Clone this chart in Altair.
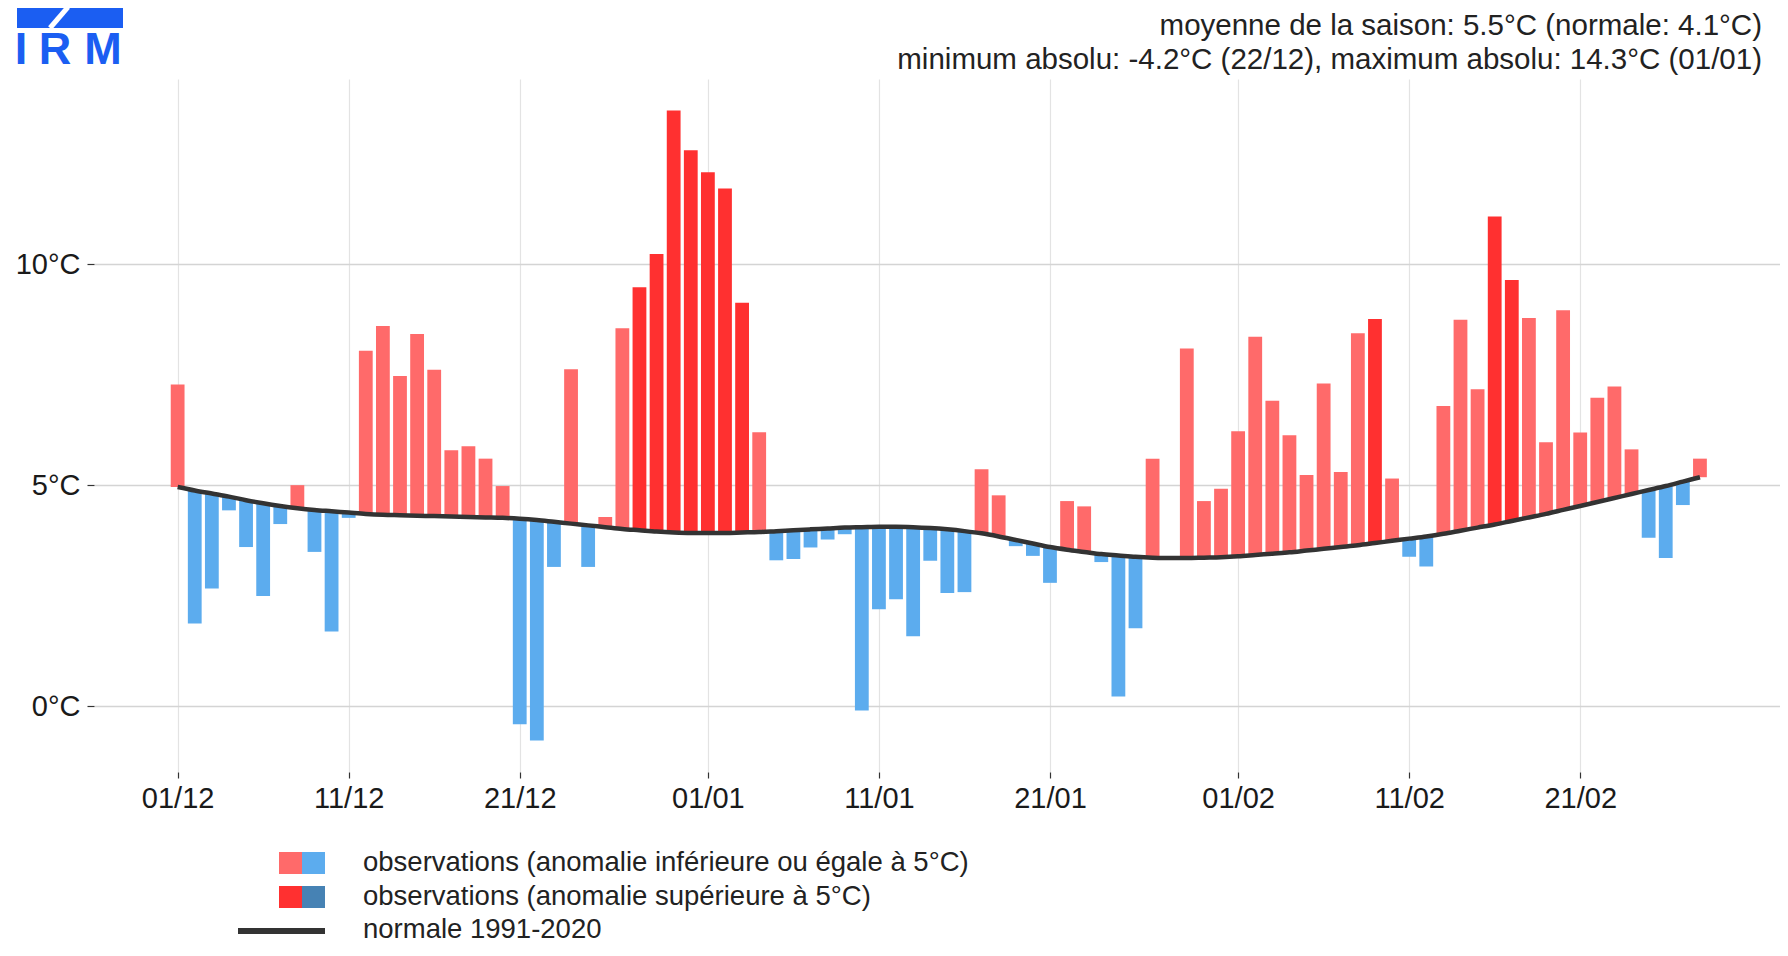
import json
import altair as alt
import pandas as pd

# ---------------- data ----------------
dates = pd.date_range("2021-12-01", "2022-02-28").strftime("%d/%m").tolist()

observed = [
    7.28, 1.87, 2.66, 4.43, 3.60, 2.49, 4.12, 5.00, 3.49, 1.69,
    4.26, 8.04, 8.60, 7.47, 8.42, 7.61, 5.79, 5.88, 5.60, 4.98,
    -0.41, -0.78, 3.15, 7.62, 3.15, 4.28, 8.55, 9.48, 10.23, 13.48,
    12.58, 12.08, 11.71, 9.13, 6.20, 3.30, 3.33, 3.59, 3.77, 3.89,
    -0.10, 2.19, 2.42, 1.58, 3.29, 2.56, 2.58, 5.36, 4.77, 3.62,
    3.40, 2.79, 4.64, 4.52, 3.26, 0.22, 1.76, 5.60, 3.35, 8.09,
    4.64, 4.92, 6.22, 8.36, 6.91, 6.13, 5.23, 7.30, 5.30, 8.44,
    8.76, 5.15, 3.38, 3.16, 6.79, 8.74, 7.17, 11.08, 9.64, 8.78,
    5.97, 8.96, 6.19, 6.98, 7.23, 5.81, 3.81, 3.35, 4.55, 5.60,
]

normal = [
    4.96, 4.88, 4.81, 4.74, 4.66, 4.59, 4.53, 4.48, 4.44, 4.41,
    4.38, 4.35, 4.33, 4.32, 4.31, 4.30, 4.29, 4.28, 4.27, 4.26,
    4.24, 4.21, 4.17, 4.13, 4.09, 4.05, 4.01, 3.98, 3.95, 3.93,
    3.92, 3.92, 3.92, 3.93, 3.94, 3.96, 3.98, 4.00, 4.02, 4.04,
    4.05, 4.06, 4.06, 4.05, 4.03, 4.00, 3.96, 3.91, 3.84, 3.76,
    3.68, 3.60, 3.54, 3.49, 3.44, 3.41, 3.38, 3.36, 3.35, 3.35,
    3.36, 3.37, 3.39, 3.42, 3.45, 3.48, 3.52, 3.56, 3.60, 3.64,
    3.69, 3.74, 3.79, 3.84, 3.90, 3.97, 4.04, 4.11, 4.19, 4.27,
    4.35, 4.44, 4.53, 4.62, 4.71, 4.80, 4.89, 4.98, 5.08, 5.18,
]

tick_days = [0, 10, 20, 31, 41, 51, 62, 72, 82]
tick_labels = ["01/12", "11/12", "21/12", "01/01", "11/01", "21/01", "01/02", "11/02", "21/02"]
y_ticks = [0, 5, 10]

categories = ["pos_lo", "pos_hi", "neg_lo", "neg_hi"]
cat_colors = ["#FF6A6A", "#FF3030", "#5CACEE", "#4682B4"]

header_lines = [
    "moyenne de la saison: 5.5°C (normale: 4.1°C)",
    "minimum absolu: -4.2°C (22/12), maximum absolu: 14.3°C (01/01)",
]
legend_labels = [
    "observations (anomalie inférieure ou égale à 5°C)",
    "observations (anomalie supérieure à 5°C)",
    "normale 1991-2020",
]
logo_letters = ["I", "R", "M"]

df = pd.DataFrame({"day": list(range(len(dates))), "date": dates,
                   "obs": observed, "normal": normal})
df["anom"] = df["obs"] - df["normal"]
df["cat"] = [("pos" if a >= 0 else "neg") + ("_hi" if abs(a) > 5 else "_lo") for a in df["anom"]]

FONT = "Liberation Sans"
TXT = "#1a1a1a"
BLUE = "#1b5ef2"

x_scale = alt.Scale(domain=[-4.89, 93.68], nice=False, zero=False, padding=0)
y_scale = alt.Scale(domain=[-1.49, 14.19], nice=False, zero=False, padding=0)

x_label_expr = "%s[indexof(%s, datum.value)]" % (json.dumps(tick_labels), json.dumps(tick_days))

bars = alt.Chart(df).mark_bar(size=13.8).encode(
    x=alt.X("day:Q", scale=x_scale, axis=alt.Axis(
        values=tick_days, labelExpr=x_label_expr, title=None, grid=True,
        gridColor="#e3e3e3", gridWidth=1.2, domain=False, tickSize=6,
        tickColor="#333333", tickWidth=1.2, labelPadding=6, labelFontSize=29,
        labelColor=TXT, labelFont=FONT)),
    y=alt.Y("obs:Q", scale=y_scale, axis=alt.Axis(
        values=y_ticks, labelExpr="datum.value + '°C'", title=None, grid=True,
        gridColor="#d4d4d4", gridWidth=1.3, domain=False, tickSize=7,
        tickColor="#333333", tickWidth=1.2, labelPadding=7, labelFontSize=29,
        labelColor=TXT, labelFont=FONT)),
    y2="normal:Q",
    color=alt.Color("cat:N", scale=alt.Scale(domain=categories, range=cat_colors), legend=None),
)

line = alt.Chart(df).mark_line(color="#333333", strokeWidth=4.5, interpolate="monotone").encode(
    x="day:Q", y="normal:Q")

one = pd.DataFrame({"k": [0]})

# header text
hdr = [
    alt.Chart(pd.DataFrame({"t": [header_lines[0]]})).mark_text(
        align="right", baseline="middle", fontSize=29.5, font=FONT, color="#222222").encode(
        text="t:N", x=alt.value(1668), y=alt.value(-53)),
    alt.Chart(pd.DataFrame({"t": [header_lines[1]]})).mark_text(
        align="right", baseline="middle", fontSize=29.5, font=FONT, color="#222222").encode(
        text="t:N", x=alt.value(1668), y=alt.value(-19)),
]

# logo
logo = [
    alt.Chart(one).mark_rect(color=BLUE).encode(
        x=alt.value(-77), x2=alt.value(29), y=alt.value(-72), y2=alt.value(-51)),
    alt.Chart(one).mark_rule(color="white", strokeWidth=5).encode(
        x=alt.value(-26), x2=alt.value(-44), y=alt.value(-72), y2=alt.value(-51)),
]
for letter, lx in zip(logo_letters, [-73, -39, 9]):
    logo.append(alt.Chart(pd.DataFrame({"t": [letter]})).mark_text(
        align="center", baseline="middle", fontSize=45, font=FONT, fontWeight="bold",
        color=BLUE).encode(text="t:N", x=alt.value(lx), y=alt.value(-29)))

# legend
leg = [
    alt.Chart(one).mark_rect(color=cat_colors[0]).encode(
        x=alt.value(185), x2=alt.value(208), y=alt.value(773), y2=alt.value(795)),
    alt.Chart(one).mark_rect(color=cat_colors[2]).encode(
        x=alt.value(208), x2=alt.value(231), y=alt.value(773), y2=alt.value(795)),
    alt.Chart(one).mark_rect(color=cat_colors[1]).encode(
        x=alt.value(185), x2=alt.value(208), y=alt.value(807), y2=alt.value(829)),
    alt.Chart(one).mark_rect(color=cat_colors[3]).encode(
        x=alt.value(208), x2=alt.value(231), y=alt.value(807), y2=alt.value(829)),
    alt.Chart(one).mark_rule(color="#333333", strokeWidth=6).encode(
        x=alt.value(144), x2=alt.value(231), y=alt.value(852)),
]
for lab, yy in zip(legend_labels, [784, 818, 851]):
    leg.append(alt.Chart(pd.DataFrame({"t": [lab]})).mark_text(
        align="left", baseline="middle", fontSize=27.5, font=FONT, color="#222222").encode(
        text="t:N", x=alt.value(269), y=alt.value(yy)))

chart = alt.layer(bars, line, *hdr, *logo, *leg).properties(
    width=1686, height=693,
    autosize=alt.AutoSizeParams(type="none"),
    padding={"left": 86, "top": 71, "right": 0, "bottom": 172},
).configure(font=FONT).configure_view(strokeWidth=0, stroke=None)

chart.save("out.html", embed_options={"renderer": "svg", "actions": False})
